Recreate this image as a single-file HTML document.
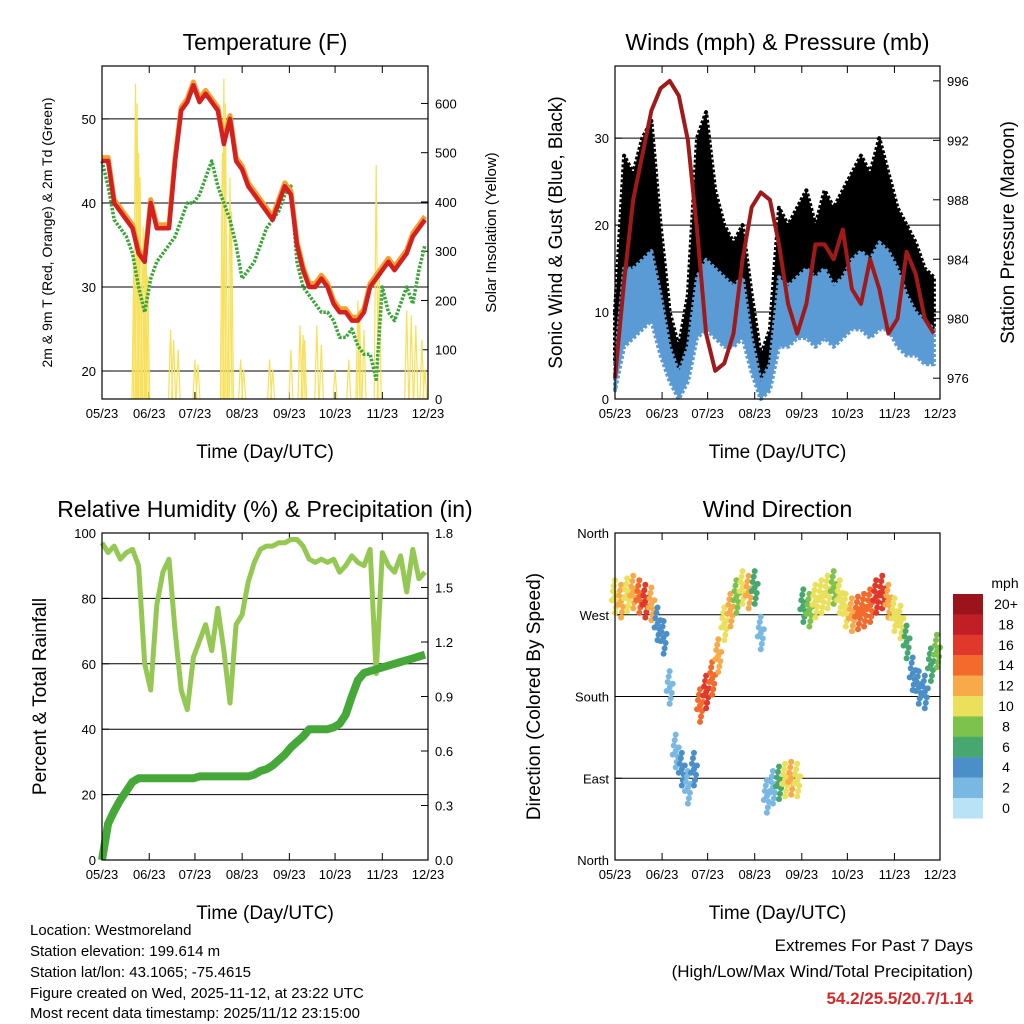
<!DOCTYPE html>
<html><head><meta charset="utf-8">
<style>
body{margin:0;background:#fff;}
svg{display:block;font-family:"Liberation Sans",Arial,sans-serif;}
</style></head>
<body>
<svg id="chart" width="1024" height="1024" viewBox="0 0 1024 1024" xmlns="http://www.w3.org/2000/svg">
<rect width="1024" height="1024" fill="#fff"/>
<g id="txt" font-size="15" fill="#000">
<text x="30" y="935">Location: Westmoreland</text>
<text x="30" y="956">Station elevation: 199.614 m</text>
<text x="30" y="977">Station lat/lon: 43.1065; -75.4615</text>
<text x="30" y="998">Figure created on Wed, 2025-11-12, at 23:22 UTC</text>
<text x="30" y="1018">Most recent data timestamp: 2025/11/12 23:15:00</text>
<text x="973" y="951" text-anchor="end" font-size="17">Extremes For Past 7 Days</text>
<text x="973" y="977" text-anchor="end" font-size="17">(High/Low/Max Wind/Total Precipitation)</text>
<text x="973" y="1004" text-anchor="end" font-size="17" font-weight="bold" fill="#d42a2a">54.2/25.5/20.7/1.14</text>
</g>
</svg>
<script>
// ---------- data ----------
const monthLabels=["05/23","06/23","07/23","08/23","09/23","10/23","11/23","12/23"];
const monthDays=[0,31,61,92,123,153,184,214];
const tempDays4=[0,4,8,12,16,20,24,28,32,36,40,44,48,52,56,60,64,68,72,76,80,84,88,92,96,100,104,108,112,116,120,124,128,132,136,140,144,148,152,156,160,164,168,172,176,180,184,188,192,196,200,204,208,212];
const tempAir=[45,45,40,39,38,37,34,33,40,37,37,37,45,51,52,54,52,53,52,51,47,50,45,44,42,41,40,39,38,40,42,41,35,32,30,30,31,30,28,27,27,26,26,27,30,31,32,33,32,33,34,36,37,38];
const tempDew=[45,42,38,37,36,34,30,27,31,33,34,35,36,38,40,40,41,43,45,42,40,38,35,31,32,33,35,37,38,39,41,42,33,30,29,28,27,27,26,24,24,25,23,22,22,19,30,27,26,28,30,28,32,35];
const solarDays=[21,22,23,24,25,27,28,29,30,45,47,50,61,63,79,80,81,84,85,91,93,110,112,124,130,132,133,141,144,153,162,168,169,172,180,182,200,203,206,210,212];
const solarPeak=[300,640,600,500,450,350,320,300,250,140,120,100,80,70,500,650,600,450,380,80,60,80,60,100,150,130,120,150,110,60,80,200,180,140,475,250,180,170,150,120,60];
const windDays=[0,6,12,18,24,30,36,42,48,54,60,66,72,78,84,90,96,102,108,114,120,126,132,138,144,150,156,162,168,174,180,186,192,198,204,210];
const gustHi=[10,28,26,30,32,20,10,6,12,30,33,24,20,18,20,12,5,8,22,20,22,24,20,24,22,24,26,28,26,30,26,22,20,18,15,14];
const windHi=[4,15,15,16,17,12,6,3,6,14,16,15,14,13,14,7,2,4,14,13,14,15,14,15,13,14,16,17,16,18,17,15,12,10,9,8];
const windLo=[1,6,7,8,9,5,2,0,2,7,8,7,6,6,7,3,0,1,6,6,7,7,6,7,6,7,8,8,7,8,8,6,5,5,4,4];
const pressure=[976,982.5,988,991,994,995.5,996,995,992,986,979,976.5,977,979,984,987.5,988.5,988,985,981,979,981,985,985,984,986,982,981,984,982,979,980,984.5,983,980,979];
const rh=[97,94,96,92,94,95,90,60,52,78,88,92,70,52,46,62,67,72,64,77,64,48,72,75,85,91,95,96,96,97,97,98,98,96,92,91,92,91,92,88,90,93,91,90,95,57,94,90,88,93,82,95,86,88];
const rain=[0,0.2,0.27,0.33,0.38,0.43,0.45,0.45,0.45,0.45,0.45,0.45,0.45,0.45,0.45,0.45,0.46,0.46,0.46,0.46,0.46,0.46,0.46,0.46,0.46,0.47,0.49,0.5,0.52,0.55,0.58,0.62,0.65,0.68,0.72,0.72,0.72,0.72,0.73,0.75,0.8,0.9,0.99,1.03,1.04,1.05,1.06,1.07,1.08,1.09,1.1,1.11,1.12,1.13];
const dirDir=[290,285,292,295,290,285,282,260,245,190,120,100,80,100,170,185,200,225,260,275,290,300,295,300,250,70,80,85,88,90,88,280,275,285,290,295,300,290,275,270,272,275,280,290,295,285,270,262,240,205,190,185,215,230];
const dirSpeed=[10,12,9,12,14,16,12,4,4,2,2,3,2,4,13,15,14,12,10,11,8,9,11,6,1,1,2,5,9,11,10,6,8,10,9,10,8,9,10,12,14,13,14,16,15,12,10,9,5,4,3,4,6,7];
const cbLabels=["20+","18","16","14","12","10","8","6","4","2","0"];
const cbColors=["#9b141c","#c11e25","#e0382b","#f26a2c","#f8a94a","#ebe05c","#7dc24d","#47a86f","#4a8fc8","#7ab8e4","#b9e2f7"];

// ---------- helpers ----------
const NS="http://www.w3.org/2000/svg";
const svg=document.getElementById('chart');
function el(tag,attrs,parent){const e=document.createElementNS(NS,tag);for(const k in attrs)e.setAttribute(k,attrs[k]);(parent||svg).appendChild(e);return e;}
function txt(s,attrs,parent){const e=el('text',attrs,parent);e.textContent=s;return e;}

function makePanel(p){
  const g=el('g',{});
  
  
  p.g=g;
  p.sx=d=>p.x0+d/214*(p.x1-p.x0);
  p.sy=v=>p.y1-(v-p.lmin)/(p.lmax-p.lmin)*(p.y1-p.y0);
  p.sr=v=>p.y1-(v-p.rmin)/(p.rmax-p.rmin)*(p.y1-p.y0);
  // grid
  p.grid.forEach(v=>{const l=el('line',{x1:p.x0,x2:p.x1,y1:p.sy(v),y2:p.sy(v),stroke:'#000','stroke-width':1},g);
    });
  // title
  const t=txt(p.title,{x:(p.x0+p.x1)/2,y:p.y0-16,'text-anchor':'middle','font-size':23},g);
  
  const xl=txt('Time (Day/UTC)',{x:(p.x0+p.x1)/2,y:p.y1+59,'text-anchor':'middle','font-size':19},g);
  
  monthDays.forEach((d,i)=>{const x=p.sx(d);
    el('line',{x1:x,x2:x,y1:p.y1,y2:p.y1-7,stroke:'#000'},g);el('line',{x1:x,x2:x,y1:p.y0,y2:p.y0+7,stroke:'#000'},g);
    const lt=txt(monthLabels[i],{x:x,y:p.y1+19,'text-anchor':'middle','font-size':13},g);
    });
  p.lticks.forEach((v,i)=>{const y=p.sy(v);el('line',{x1:p.x0,x2:p.x0+7,y1:y,y2:y,stroke:'#000'},g);
    const lt=txt(p.ltickLabels[i],{x:p.x0-6,y:y+5,'text-anchor':'end','font-size':13},g);
    });
  if(p.rticks)p.rticks.forEach((v,i)=>{const y=p.sr(v);el('line',{x1:p.x1,x2:p.x1-7,y1:y,y2:y,stroke:'#000'},g);
    const lt=txt(p.rtickLabels[i],{x:p.x1+7,y:y+5,'font-size':13},g);
    });
  const ll=txt(p.ltitle,{x:0,y:0,'text-anchor':'middle','font-size':p.lfs,transform:`translate(${p.lx},${(p.y0+p.y1)/2}) rotate(-90)`},g);
  
  if(p.rtitle){const rl=txt(p.rtitle,{x:0,y:0,'text-anchor':'middle','font-size':p.rfs,transform:`translate(${p.rx},${(p.y0+p.y1)/2}) rotate(-90)`},g);
    }
  p.marks=el('g',{},g);
  return p;
}
function frame(p){const r=el('rect',{x:p.x0,y:p.y0,width:p.x1-p.x0,height:p.y1-p.y0,fill:'none',stroke:'#000','stroke-width':1.2},p.g);
  }
function pathPts(xs,ys){return xs.map((x,i)=>(i?'L':'M')+x.toFixed(1)+','+ys[i].toFixed(1)).join('');}

// ---------- Panel 1: Temperature ----------
const p1=makePanel({name:'temperature-panel',title:'Temperature (F)',x0:102,x1:428,y0:66,y1:399,lmin:16.67,lmax:56.3,rmin:0,rmax:676,
  grid:[20,30,40,50],lticks:[20,30,40,50],ltickLabels:['20','30','40','50'],rticks:[0,100,200,300,400,500,600],rtickLabels:['0','100','200','300','400','500','600'],
  ltitle:'2m & 9m T (Red, Orange) & 2m Td (Green)',lfs:14,lx:52,rtitle:'Solar Insolation (Yellow)',rfs:15,rx:496});
solarDays.forEach((d,i)=>{const x=p1.sx(d);const s=el('path',{d:`M${x-2},${p1.y1}L${x},${p1.sr(solarPeak[i])}L${x+2},${p1.y1}`,fill:'none',stroke:'#f7e05a','stroke-width':1.2},p1.marks);
  });
{const xs=tempDays4.map(p1.sx);
 const dw=el('path',{d:pathPts(xs,tempDew.map(p1.sy)),fill:'none',stroke:'#3aa63a','stroke-width':3.5,'stroke-dasharray':'2.5 1.5','stroke-linejoin':'round'},p1.marks);
 
 const o=el('path',{d:pathPts(xs,tempAir.map(v=>p1.sy(v+0.4))),fill:'none',stroke:'#f4a030','stroke-width':5,'stroke-linejoin':'round'},p1.marks);
 
 const r=el('path',{d:pathPts(xs,tempAir.map(p1.sy)),fill:'none',stroke:'#d42020','stroke-width':4.5,'stroke-linejoin':'round'},p1.marks);
 }
frame(p1);

// ---------- Panel 2: Winds ----------
const p2=makePanel({name:'winds-panel',title:'Winds (mph) & Pressure (mb)',x0:615,x1:940,y0:66,y1:399,lmin:0,lmax:38.3,rmin:974.6,rmax:997,
  grid:[10,20,30],lticks:[0,10,20,30],ltickLabels:['0','10','20','30'],rticks:[976,980,984,988,992,996],rtickLabels:['976','980','984','988','992','996'],
  ltitle:'Sonic Wind & Gust (Blue, Black)',lfs:19,lx:562,rtitle:'Station Pressure (Maroon)',rfs:19,rx:1014});
{const xs=windDays.map(d=>p2.sx(Math.min(d,214)));
 const band=(hi,lo,col,name)=>{const d=pathPts(xs,hi.map(p2.sy))+xs.slice().reverse().map((x,i)=>'L'+x.toFixed(1)+','+p2.sy(lo[lo.length-1-i]).toFixed(1)).join('')+'Z';
   const b=el('path',{d:d,fill:col,stroke:col,'stroke-width':4,'stroke-linejoin':'round','stroke-dasharray':'3 2'},p2.marks);
   };
 band(gustHi,windHi,'#000','gust-points');
 band(windHi,windLo,'#5b9bd5','wind-points');
 const pr=el('path',{d:pathPts(xs,pressure.map(p2.sr)),fill:'none',stroke:'#a01a1a','stroke-width':4,'stroke-linejoin':'round'},p2.marks);
 }
frame(p2);

// ---------- Panel 3: RH & Rain ----------
const p3=makePanel({name:'humidity-panel',title:'Relative Humidity (%) & Precipitation (in)',x0:102,x1:428,y0:533,y1:860,lmin:0,lmax:100,rmin:0,rmax:1.8,
  grid:[20,40,60,80],lticks:[0,20,40,60,80,100],ltickLabels:['0','20','40','60','80','100'],rticks:[0,0.3,0.6,0.9,1.2,1.5,1.8],rtickLabels:['0.0','0.3','0.6','0.9','1.2','1.5','1.8'],
  ltitle:'Percent & Total Rainfall',lfs:19,lx:46});
{const xs=tempDays4.map(p3.sx);
 const a=el('path',{d:pathPts(xs,rh.map(p3.sy)),fill:'none',stroke:'#94c852','stroke-width':5,'stroke-linejoin':'round'},p3.marks);
 
 const b=el('path',{d:pathPts(xs,rain.map(p3.sr)),fill:'none',stroke:'#45a838','stroke-width':8,'stroke-linejoin':'round'},p3.marks);
 }
frame(p3);

// ---------- Panel 4: Wind direction ----------
const p4=makePanel({name:'wind-direction-panel',title:'Wind Direction',x0:615,x1:940,y0:533,y1:860,lmin:0,lmax:360,
  grid:[90,180,270],lticks:[0,90,180,270,360],ltickLabels:['North','East','South','West','North'],
  ltitle:'Direction (Colored By Speed)',lfs:19,lx:540});
{const offs=[[0,0],[-2,6],[2,-6],[-1,12],[1,-12],[3,4],[-3,-4],[0,18],[0,-18]];
 const colFor=s=>cbColors[10-Math.min(10,Math.round(s/2))];
 tempDays4.forEach((d,i)=>{offs.forEach(o=>{const c=el('circle',{cx:p4.sx(d)+o[0],cy:p4.sy(dirDir[i]+o[1]),r:3,fill:colFor(dirSpeed[i])},p4.marks);
   });});}
frame(p4);
// colorbar
{const g=el('g',{});
 const t=txt('mph',{x:1005,y:588,'text-anchor':'middle','font-size':14},g);
 cbColors.forEach((c,i)=>{const y=594+i*20.4;const r=el('rect',{x:953,y:y,width:30,height:20.6,fill:c},g);
   
   const l=txt(cbLabels[i],{x:1006,y:y+15,'text-anchor':'middle','font-size':14},g);
   });}
</script>
</body></html>
